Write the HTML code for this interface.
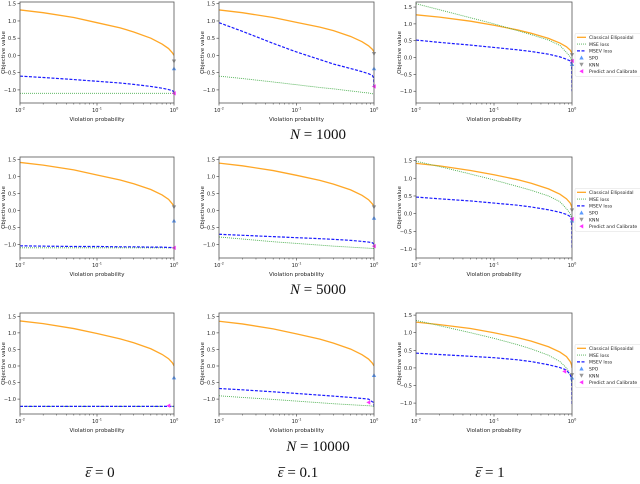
<!DOCTYPE html>
<html><head><meta charset="utf-8"><style>
body{margin:0;background:#fff;width:640px;height:479px;overflow:hidden}
svg text{font-family:"DejaVu Sans","Liberation Sans",sans-serif}
.big{font-family:"Liberation Serif",serif;font-style:normal}
</style></head><body>
<svg id="fig" width="640" height="479" xmlns="http://www.w3.org/2000/svg"></svg>
<script>
// Shared x sample points (violation probability)
const xs = [0.01,0.02,0.05,0.1,0.2,0.3,0.5,0.7,0.85,0.95,0.99,1.0];
// Classical ellipsoidal curves per panel
const orange = [
 [1.32,1.24,1.1,0.95,0.8,0.68,0.5,0.33,0.2,0.08,0.02,0.0],
 [1.32,1.24,1.1,0.96,0.82,0.72,0.55,0.4,0.28,0.18,0.12,0.08],
 [1.27,1.2,1.08,0.96,0.82,0.72,0.57,0.43,0.32,0.22,0.15,0.1],
 [1.42,1.34,1.2,1.05,0.9,0.79,0.62,0.46,0.33,0.2,0.13,0.1],
 [1.4,1.32,1.18,1.04,0.89,0.78,0.61,0.45,0.32,0.2,0.13,0.1],
 [1.42,1.35,1.22,1.1,0.96,0.86,0.7,0.55,0.42,0.3,0.2,0.15],
 [1.36,1.28,1.13,0.98,0.82,0.7,0.52,0.35,0.22,0.1,0.03,0.0],
 [1.35,1.27,1.12,0.97,0.81,0.69,0.51,0.34,0.21,0.09,0.02,0.0],
 [1.3,1.23,1.12,1.0,0.86,0.76,0.6,0.45,0.32,0.18,0.08,0.0]
];
// MSE loss curves
const green = [
 [-1.1,-1.1,-1.1,-1.1,-1.1,-1.1,-1.1,-1.1,-1.1,-1.1,-1.1,-1.1],
 [-0.6,-0.67,-0.77,-0.85,-0.93,-0.97,-1.03,-1.07,-1.09,-1.11,-1.12,-1.12],
 [1.6,1.42,1.18,1.0,0.8,0.68,0.52,0.36,0.15,0.02,-0.1,-0.3],
 [-1.1,-1.1,-1.1,-1.1,-1.1,-1.1,-1.1,-1.1,-1.1,-1.1,-1.1,-1.1],
 [-0.78,-0.84,-0.92,-0.97,-1.02,-1.05,-1.08,-1.1,-1.11,-1.12,-1.12,-1.12],
 [1.48,1.33,1.12,0.95,0.77,0.66,0.5,0.34,0.14,0.0,-0.1,-0.3],
 [-1.22,-1.22,-1.22,-1.22,-1.22,-1.22,-1.22,-1.22,-1.22,-1.22,-1.22,-1.22],
 [-0.9,-0.95,-1.01,-1.06,-1.11,-1.14,-1.17,-1.19,-1.2,-1.21,-1.22,-1.22],
 [1.35,1.2,1.0,0.84,0.66,0.54,0.36,0.18,0.0,-0.2,-0.4,-0.5]
];
// MSEV loss curves
const blue = [
 [-0.6,-0.64,-0.7,-0.75,-0.8,-0.84,-0.9,-0.95,-0.99,-1.02,-1.05,-1.1],
 [0.95,0.7,0.35,0.1,-0.12,-0.25,-0.38,-0.47,-0.53,-0.58,-0.65,-0.95],
 [0.52,0.45,0.37,0.3,0.23,0.18,0.1,0.02,-0.05,-0.1,-0.2,-1.0],
 [-1.04,-1.05,-1.06,-1.06,-1.07,-1.07,-1.08,-1.08,-1.09,-1.09,-1.1,-1.1],
 [-0.7,-0.73,-0.77,-0.8,-0.83,-0.85,-0.88,-0.91,-0.93,-0.95,-0.98,-1.05],
 [0.47,0.42,0.36,0.3,0.24,0.19,0.11,0.04,-0.02,-0.08,-0.2,-1.0],
 [-1.22,-1.22,-1.22,-1.22,-1.22,-1.22,-1.22,-1.22,-1.22,-1.22,-1.22,-1.22],
 [-0.68,-0.72,-0.78,-0.83,-0.88,-0.91,-0.95,-0.98,-1.0,-1.08,-1.1,-1.22],
 [0.42,0.38,0.33,0.29,0.23,0.18,0.09,0.01,-0.06,-0.2,-0.28,-1.05]
];
// Markers: [x, y] per panel (null = absent)
const spo = [[1,-0.38],[1,-0.38],[1,-0.2],[1,-0.3],[1,-0.22],[1,-0.2],[1,-0.35],[1,-0.28],[1,-0.28]];
const knn = [[1,-0.17],[1,0.05],[1,0.08],[1,0.1],[1,0.1],[1,0.1],null,null,[1,-0.2]];
const pc  = [[1,-1.1],[1,-0.9],[1,-0.1],[1,-1.1],[1,-1.05],[1,-0.15],[0.85,-1.2],[0.85,-1.1],[0.8,-0.1]];
// Y limits per panel
const ylo = [-1.38,-1.38,-1.35,-1.4,-1.4,-1.25,-1.45,-1.45,-1.31];
const yhi = [1.55,1.55,1.65,1.58,1.58,1.6,1.6,1.6,1.56];
const yticks = [-1.0,-0.5,0.0,0.5,1.0,1.5];
const ytickLabels = ["\u22121.0","\u22120.5","0.0","0.5","1.0","1.5"];
const xticks = [0.01,0.1,1];
const rowLabels = ["1000","5000","10000"];
const colLabels = ["0","0.1","1"];
const legendItems = ["Classical Ellipsoidal","MSE loss","MSEV loss","SPO","KNN","Predict and Calibrate"];

const NS="http://www.w3.org/2000/svg";
const svg=document.getElementById('fig');
function mk(tag,attrs,parent){const e=document.createElementNS(NS,tag);for(const k in attrs)e.setAttribute(k,attrs[k]);(parent||svg).appendChild(e);return e;}
const colL=[20,219,416], colR=[174,374,572], rowT=[2,157,313], rowB=[103,258,414];

function tri(g,cx,cy,dir,fill){
  const s=2.2;let p;
  if(dir==='up')p=[[cx,cy-s],[cx-s,cy+s*0.8],[cx+s,cy+s*0.8]];
  else if(dir==='down')p=[[cx,cy+s],[cx-s,cy-s*0.8],[cx+s,cy-s*0.8]];
  else p=[[cx-s,cy],[cx+s*0.8,cy-s],[cx+s*0.8,cy+s]];
  return mk('polygon',{points:p.map(q=>q.join(',')).join(' '),fill:fill},g);
}

for(let r=0;r<3;r++)for(let c=0;c<3;c++){
  const i=r*3+c;
  const L=colL[c],R=colR[c],T=rowT[r],B=rowB[r];
  const g=mk('g',{});
  
  
  const xf=v=>L+(Math.log10(v)+2)/2*(R-L);
  const yf=v=>B-(v-ylo[i])/(yhi[i]-ylo[i])*(B-T);
  yticks.forEach((t,k)=>{const y=yf(t);if(y<T-0.5||y>B+0.5)return;
    mk('line',{x1:L-2.5,x2:L,y1:y,y2:y,stroke:'#333','stroke-width':0.6},g);
    const tx=mk('text',{x:L-4,y:y+2,'font-size':5,'text-anchor':'end',fill:'#222'},g);tx.textContent=ytickLabels[k];
    });
  xticks.forEach(t=>{const x=xf(t);
    mk('line',{x1:x,x2:x,y1:B,y2:B+2.5,stroke:'#333','stroke-width':0.6},g);
    const tx=mk('text',{x:x,y:B+9,'font-size':5,'text-anchor':'middle',fill:'#222'},g);
    tx.innerHTML='10<tspan dy="-2.5" font-size="3.5">'+Math.round(Math.log10(t))+'</tspan>';
    });
  for(let d=-2;d<0;d++)for(let m=2;m<10;m++){const x=xf(m*Math.pow(10,d));mk('line',{x1:x,x2:x,y1:B,y2:B+1.5,stroke:'#333','stroke-width':0.5},g);}
  const xl=mk('text',{x:(L+R)/2,y:B+18,'font-size':5.5,'text-anchor':'middle',fill:'#222'},g);xl.textContent='Violation probability';
  
  const yl=mk('text',{x:0,y:0,'font-size':5.5,'text-anchor':'middle',fill:'#222',transform:'translate('+(L-15)+','+((T+B)/2)+') rotate(-90)'},g);yl.textContent='Objective value';
  
  const cp=mk('clipPath',{id:'cp'+i},g);mk('rect',{x:L,y:T,width:R-L,height:B-T},cp);
  const pg=mk('g',{'clip-path':'url(#cp'+i+')'},g);
  const line=(arr,col,w,dash,name)=>{const p=mk('polyline',{points:xs.map((x,k)=>xf(x)+','+yf(arr[k])).join(' '),fill:'none',stroke:col,'stroke-width':w,'stroke-dasharray':dash},pg);
    };
  line(orange[i],'#ffa726',1.3,'none','classical-ellipsoidal-line');
  line(green[i],'#4caf50',0.9,'1,1','mse-loss-line');
  line(blue[i],'#1a1aff',1.2,'3,1.5','msev-loss-line');
  if(spo[i]){const m=tri(g,xf(spo[i][0]),yf(spo[i][1]),'up','#5b9bff');}
  if(knn[i]){const m=tri(g,xf(knn[i][0]),yf(knn[i][1]),'down','#999');}
  if(pc[i]){const m=tri(g,xf(pc[i][0]),yf(pc[i][1]),'left','#ff33ff');}
  mk('rect',{x:L,y:T,width:R-L,height:B-T,fill:'none',stroke:'#555','stroke-width':0.8},g);
  if(c===2){
    const lg=mk('g',{},g);
    const y0=T+(B-T)*0.31;
    mk('rect',{x:575,y:y0,width:70,height:43,fill:'#fff',stroke:'#ddd','stroke-width':0.5,rx:1.5},lg);
    legendItems.forEach((s,k)=>{const y=y0+4+k*6.8;
      if(k===0)mk('line',{x1:577,x2:586,y1:y,y2:y,stroke:'#ffa726','stroke-width':1.3},lg);
      if(k===1)mk('line',{x1:577,x2:586,y1:y,y2:y,stroke:'#4caf50','stroke-width':0.9,'stroke-dasharray':'1,1'},lg);
      if(k===2)mk('line',{x1:577,x2:586,y1:y,y2:y,stroke:'#1a1aff','stroke-width':1.2,'stroke-dasharray':'3,1.5'},lg);
      if(k===3)tri(lg,581.5,y,'up','#5b9bff');
      if(k===4)tri(lg,581.5,y,'down','#999');
      if(k===5)tri(lg,581.5,y,'left','#ff33ff');
      const t=mk('text',{x:589,y:y+1.8,'font-size':4.6,fill:'#222','font-family':'Liberation Sans, sans-serif'},lg);t.textContent=s;
      });
  }
}
const rowY=[139,294,451];
rowLabels.forEach((s,k)=>{const t=mk('text',{x:318,y:rowY[k],'font-size':15,'text-anchor':'middle',class:'big',fill:'#111'});
  t.innerHTML='<tspan font-style="italic">N</tspan> = '+s;
  });
const colX=[100,298,490];
colLabels.forEach((s,k)=>{const t=mk('text',{x:colX[k],y:477,'font-size':15,'text-anchor':'middle',class:'big',fill:'#111'});
  t.innerHTML='<tspan font-style="italic">ε</tspan> = '+s;
  
  const bb=t.getBBox();
  mk('line',{x1:bb.x+1,x2:bb.x+7.5,y1:bb.y+2.5,y2:bb.y+2.5,stroke:'#111','stroke-width':0.8});
});
</script>
</body></html>
